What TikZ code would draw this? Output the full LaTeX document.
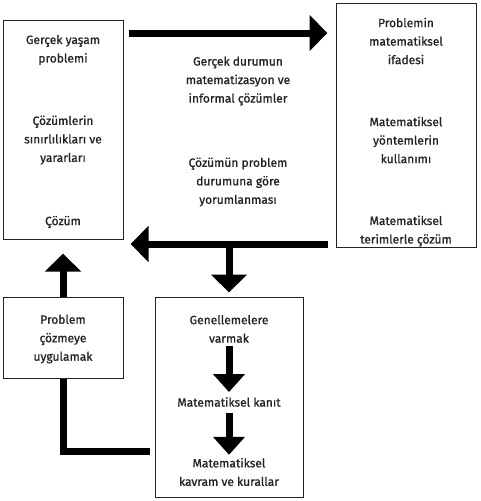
\documentclass[tikz,border=0pt]{standalone}
\usepackage{fontspec}
\setmainfont{Fira Sans}[BoldFont={Fira Sans}, BoldFeatures={FakeBold=1}]
\usetikzlibrary{arrows.meta}
\definecolor{koyu}{RGB}{35, 35, 35}

\begin{document}
\begin{tikzpicture}[x=1pt, y=-1pt,
    kutu/.style={draw=koyu, line width=1pt, inner sep=0pt},
    yazi/.style={align=center, inner sep=0pt, text=koyu, font=\fontsize{12}{18.5}\selectfont\bfseries},
    kalin/.style={line width=7pt, line join=miter, -{Triangle[width=35pt, length=18pt]}},
    ince/.style={line width=7pt, -{Triangle[width=31pt, length=18pt]}}]
    \useasboundingbox (0,0) rectangle (480,501);

    % Kutular
    \node[kutu, minimum width=120pt, minimum height=219pt] (gercek) at (63,129.5) {};
    \node[kutu, minimum width=140pt, minimum height=244pt] (mat) at (406,125) {};
    \node[kutu, minimum width=120pt, minimum height=81pt] (uygula) at (63,337.5) {};
    \node[kutu, minimum width=148pt, minimum height=200pt] (genel) at (229,397) {};

    % Sol kutu
    \node[yazi] at (63,50) {Gerçek yaşam\\problemi};
    \node[yazi] at (63,140) {Çözümlerin\\sınırlılıkları ve\\yararları};
    \node[yazi] at (63,222) {Çözüm};

    % Sag kutu
    \node[yazi] at (406,41) {Problemin\\matematiksel\\ifadesi};
    \node[yazi] at (406,140) {Matematiksel\\yöntemlerin\\kullanımı};
    \node[yazi] at (406,231) {Matematiksel\\terimlerle çözüm};

    % Ortadaki yazilar
    \node[yazi] at (238,81) {Gerçek durumun\\matematizasyon ve\\informal çözümler};
    \node[yazi] at (238,182) {Çözümün problem\\durumuna göre\\yorumlanması};

    % Alt kutular
    \node[yazi] at (63,339) {Problem\\çözmeye\\uygulamak};
    \node[yazi] (g1) at (229,329) {Genellemelere\\varmak};
    \node[yazi] (g2) at (229,402) {Matematiksel kanıt};
    \node[yazi] (g3) at (229,472) {Matematiksel\\kavram ve kurallar};

    % Oklar
    \draw[kalin, shorten <=5pt, shorten >=8pt] (gercek.east |- 0,33) -- (mat.west |- 0,33);
    \draw[kalin, shorten <=8pt, shorten >=7pt] (mat.west |- 0,244) -- (gercek.east |- 0,244);
    \draw[kalin, shorten >=4pt] (genel.north |- 0,247) -- (genel.north);
    \draw[kalin, shorten >=14pt] (uygula.north) -- (gercek.south);
    \draw[line width=7pt, line join=miter, shorten >=5pt] (uygula.south) |- (genel.west |- 0,451);
    \draw[ince, shorten <=3pt, shorten >=5pt] (g1) -- (g2);
    \draw[ince, shorten <=6pt, shorten >=3pt] (g2) -- (g3);
\end{tikzpicture}
\end{document}
